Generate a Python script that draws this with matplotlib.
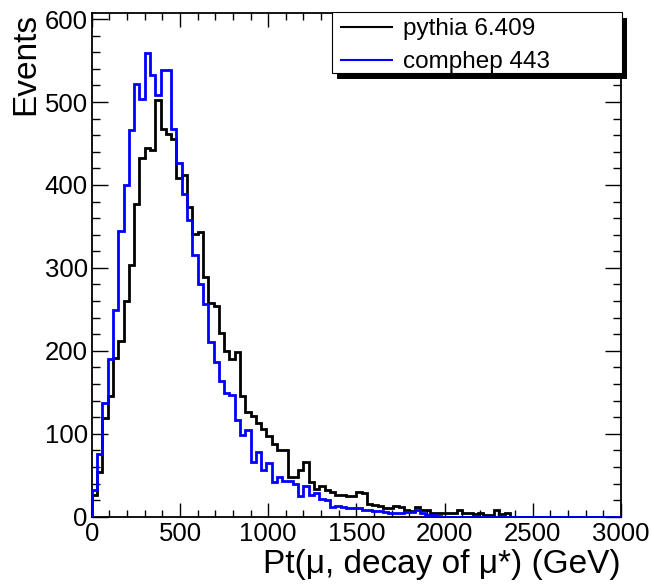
import numpy as np
import matplotlib
matplotlib.use("Agg")
import matplotlib.pyplot as plt
from matplotlib.patches import Rectangle
from matplotlib.lines import Line2D
from matplotlib.ticker import MultipleLocator

plt.rcParams['font.family'] = ['Liberation Sans', 'DejaVu Sans']

# ---- data (100 bins of 30 GeV, 0..3000 GeV) ----
x_min, x_max, n_bins = 0, 3000, 100
pythia = [26, 54, 119, 146, 191, 212, 260, 303, 377, 433,
          445, 442, 502, 467, 461, 455, 408, 412, 373, 341,
          343, 289, 258, 254, 221, 200, 190, 198, 145, 126,
          122, 113, 106, 97, 88, 80, 80, 48, 48, 56,
          66, 42, 33, 37, 32, 30, 26, 26, 25, 25,
          30, 28, 15, 14, 13, 10, 11, 13, 12, 8,
          7, 12, 8, 8, 5, 5, 5, 4, 4, 8,
          5, 4, 3, 5, 2, 2, 8, 3, 4, 0,
          0, 0, 0, 0, 0, 0, 0, 0, 0, 0,
          0, 0, 0, 0, 0, 0, 0, 0, 0, 0]
comphep = [32, 76, 137, 190, 249, 344, 400, 466, 522, 504,
           559, 533, 508, 539, 539, 468, 426, 389, 358, 316,
           280, 257, 211, 186, 164, 149, 147, 117, 99, 105,
           66, 78, 56, 65, 42, 48, 43, 43, 40, 25,
           37, 26, 28, 21, 20, 12, 13, 12, 10, 10,
           10, 8, 8, 7, 7, 6, 5, 5, 5, 6,
           6, 8, 4, 2, 2, 1, 0, 0, 0, 0,
           0, 0, 0, 0, 0, 0, 0, 0, 0, 0,
           0, 0, 0, 0, 0, 0, 0, 0, 0, 0,
           0, 0, 0, 0, 0, 0, 0, 0, 0, 0]
series_labels = ["pythia 6.409", "comphep 443"]
series_colors = ["black", "#0000ff"]
x_title = "Pt(\u03bc, decay of \u03bc*) (GeV)"
y_title = "Events"

W, H = 654, 588
fig = plt.figure(figsize=(W / 100, H / 100), dpi=100)
ax = fig.add_axes([91.8 / W, 1 - 516.7 / H, (621 - 91.8) / W, (516.7 - 13.3) / H])

edges = np.linspace(x_min, x_max, n_bins + 1)
for vals, col in zip([pythia, comphep], series_colors):
    ax.stairs(vals, edges, baseline=0, color=col, lw=2.0, zorder=3)

ax.set_xlim(x_min, x_max)
ax.set_ylim(0, 607)
ax.xaxis.set_major_locator(MultipleLocator(500))
ax.xaxis.set_minor_locator(MultipleLocator(100))
ax.yaxis.set_major_locator(MultipleLocator(100))
ax.yaxis.set_minor_locator(MultipleLocator(20))
ax.tick_params(which='both', direction='in', top=True, right=True,
               width=1.0, labelsize=18.5)
ax.tick_params(axis='x', which='major', length=10, pad=4)
ax.tick_params(axis='x', which='minor', length=5)
ax.tick_params(axis='y', which='major', length=11.5, pad=3)
ax.tick_params(axis='y', which='minor', length=5.5)
for s in ax.spines.values():
    s.set_linewidth(1.3)

ax.set_xlabel(x_title, fontsize=24, loc='right', labelpad=2)
ax.set_ylabel(y_title, fontsize=24, loc='top', labelpad=2)

# ---- legend with ROOT-style shadow ----
bx0, bx1, by0, by1 = 331.7, 621.7, 12.3, 73.3
sh = Rectangle(((bx0 + 5.5) / W, 1 - (by1 + 6) / H), (bx1 - bx0) / W, (by1 - by0) / H,
               transform=fig.transFigure, facecolor='black', edgecolor='none', zorder=10)
box = Rectangle((bx0 / W, 1 - by1 / H), (bx1 - bx0) / W, (by1 - by0) / H,
                transform=fig.transFigure, facecolor='white', edgecolor='black',
                lw=0.8, zorder=11)
fig.add_artist(sh)
fig.add_artist(box)
for i, (lab, col) in enumerate(zip(series_labels, series_colors)):
    yc = 1 - (26.5 + 33 * i) / H
    fig.add_artist(Line2D([340.7 / W, 391.7 / W], [yc, yc], transform=fig.transFigure,
                          color=col, lw=1.5, zorder=12))
    fig.text(402.7 / W, yc, lab, fontsize=17.5, va='center_baseline', ha='left', zorder=12)

fig.savefig("out.png", dpi=100)
